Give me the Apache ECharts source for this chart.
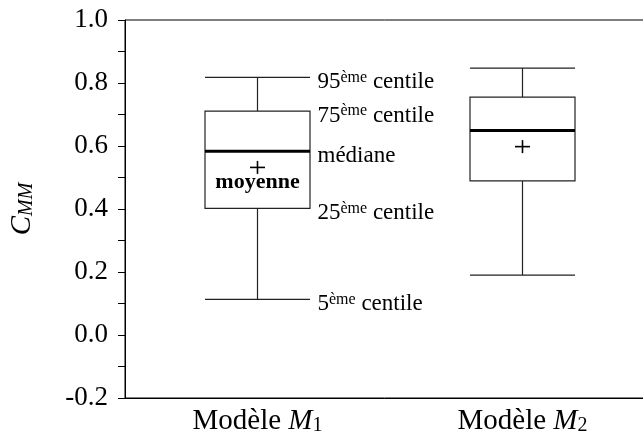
<!DOCTYPE html>
<html><head><meta charset="utf-8">
<script src="https://cdn.jsdelivr.net/npm/echarts@6/dist/echarts.min.js"></script>
<style>html,body{margin:0;padding:0;background:#fff}#c{width:643px;height:436px}</style>
</head><body><div id="c"></div>
<script>
// categories
var categories = ['M1', 'M2'];
var categoryLabels = [['Modèle ', 'M', '1'], ['Modèle ', 'M', '2']];
// [5e, 25e, médiane, 75e, 95e centile]
var statsM1 = [0.113, 0.402, 0.583, 0.711, 0.818];
var statsM2 = [0.190, 0.489, 0.649, 0.755, 0.847];
var means = [0.532, 0.598];
// annotations (for model M1)
var annoSup = ['95', '75', '', '25', '5'];
var annoText = ['centile', 'centile', 'médiane', 'centile', 'centile'];
var annoStatIndex = [4, 3, 2, 1, 0];
var meanLabel = 'moyenne';
var yTicks = [-0.2, 0.0, 0.2, 0.4, 0.6, 0.8, 1.0];

var serif = '"Liberation Serif", "DejaVu Serif", serif';
var chart = echarts.init(document.getElementById('c'), null, {renderer: 'canvas'});

var boxData = [statsM1, statsM2];

var option = {
  animation: false,
  grid: {left: 125, top: 20, width: 530, height: 378, outerBoundsMode: 'none', containLabel: false, show: true, borderColor: '#000', borderWidth: 1, backgroundColor: 'transparent'},
  xAxis: {
    type: 'category', data: categories, boundaryGap: true,
    axisLine: {onZero: false, lineStyle: {color: '#000', width: 1}},
    axisTick: {alignWithLabel: true, length: 4, lineStyle: {color: '#000'}},
    splitLine: {show: false},
    axisLabel: {
      margin: 7,
      formatter: function (v, i) {
        var p = categoryLabels[i];
        return '{n|' + p[0] + '}{i|' + p[1] + '}{s|' + p[2] + '}';
      },
      rich: {
        n: {fontFamily: serif, fontSize: 29, color: '#000', lineHeight: 31, verticalAlign: 'bottom'},
        i: {fontFamily: serif, fontSize: 29, fontStyle: 'italic', color: '#000', lineHeight: 31, verticalAlign: 'bottom'},
        s: {fontFamily: serif, fontSize: 20, color: '#000', lineHeight: 20, verticalAlign: 'bottom'}
      }
    }
  },
  yAxis: {
    type: 'value', min: -0.2, max: 1.0, interval: 0.2,
    name: '{c|C}{s|MM}', nameLocation: 'middle', nameGap: 88, nameRotate: 90,
    nameTextStyle: {
      rich: {
        c: {fontFamily: serif, fontSize: 29, fontStyle: 'italic', color: '#000', lineHeight: 31, verticalAlign: 'bottom'},
        s: {fontFamily: serif, fontSize: 20, fontStyle: 'italic', color: '#000', lineHeight: 20, verticalAlign: 'bottom'}
      }
    },
    axisLine: {show: true, lineStyle: {color: '#000', width: 1}},
    axisTick: {show: true, length: 7, lineStyle: {color: '#000'}},
    minorTick: {show: true, splitNumber: 2, length: 7, lineStyle: {color: '#000'}},
    splitLine: {show: false},
    axisLabel: {
      margin: 17, fontFamily: serif, fontSize: 27, color: '#000',
      formatter: function (v) { return v.toFixed(1); }
    }
  },
  series: [
    {
      type: 'boxplot',
      data: boxData,
      boxWidth: [105, 105],
      itemStyle: {color: '#fff', borderColor: '#222', borderWidth: 1.2},
      emphasis: {disabled: true}
    },
    {
      // thick median lines and mean markers
      type: 'custom',
      data: boxData.map(function (s, i) { return [i, s[2], means[i]]; }),
      renderItem: function (params, api) {
        var i = api.value(0);
        var med = api.coord([i, api.value(1)]);
        var mn = api.coord([i, api.value(2)]);
        var half = 52.5;
        return {
          type: 'group',
          children: [
            {type: 'line', shape: {x1: med[0] - half, y1: med[1], x2: med[0] + half, y2: med[1]}, style: {stroke: '#000', lineWidth: 3}},
            {type: 'line', shape: {x1: mn[0] - 7.5, y1: mn[1], x2: mn[0] + 7.5, y2: mn[1]}, style: {stroke: '#000', lineWidth: 1.6}},
            {type: 'line', shape: {x1: mn[0], y1: mn[1] - 6.5, x2: mn[0], y2: mn[1] + 6.5}, style: {stroke: '#000', lineWidth: 1.6}}
          ]
        };
      },
      z: 5
    },
    {
      // annotations for model M1
      type: 'custom',
      data: annoStatIndex.map(function (k, j) { return [0, statsM1[k], j]; }),
      renderItem: function (params, api) {
        var p = api.coord([api.value(0), api.value(1)]);
        var j = api.value(2);
        var txt = annoSup[j] ? ('{b|' + annoSup[j] + '}{sup|ème}{b| ' + annoText[j] + '}') : ('{b|' + annoText[j] + '}');
        return {
          type: 'text',
          x: p[0] + 60, y: p[1] + 4,
          style: {
            text: txt, align: 'left', verticalAlign: 'middle',
            rich: {
              b: {fontFamily: serif, fontSize: 23, color: '#000', lineHeight: 24, verticalAlign: 'bottom'},
              sup: {fontFamily: serif, fontSize: 16, color: '#000', lineHeight: 24, verticalAlign: 'top'}
            }
          }
        };
      },
      z: 6
    },
    {
      // "moyenne" label under the mean of M1
      type: 'custom',
      data: [[0, means[0]]],
      renderItem: function (params, api) {
        var p = api.coord([api.value(0), api.value(1)]);
        return {
          type: 'text', x: p[0], y: p[1] + 15,
          style: {text: meanLabel, align: 'center', verticalAlign: 'middle', fontFamily: serif, fontWeight: 'bold', fontSize: 22, fill: '#000'}
        };
      },
      z: 6
    }
  ]
};
chart.setOption(option);
</script>
</body></html>
